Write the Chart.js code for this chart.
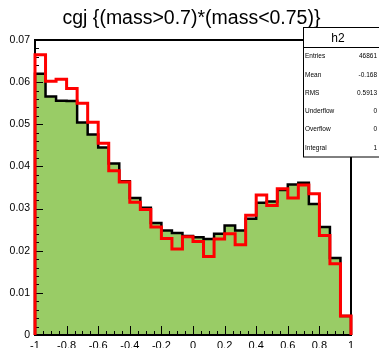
<!DOCTYPE html>
<html>
<head>
<meta charset="utf-8">
<script src="https://cdn.jsdelivr.net/npm/chart.js@4"></script>
<style>
  html, body { margin: 0; padding: 0; background: #fff; }
  canvas { display: block; }
</style>
</head>
<body>
<canvas id="histo" width="379" height="348"></canvas>
<script>
// histogram binning
const xMin = -1, xMax = 1, nBins = 30;

// bin contents (filled one, black outline)
const fillValues = [0.0620, 0.0566, 0.0556, 0.0555, 0.0504, 0.0476, 0.0445, 0.0407, 0.0365, 0.0325,
                    0.0302, 0.0266, 0.0248, 0.0242, 0.0235, 0.0232, 0.0228, 0.0240, 0.0260, 0.0248,
                    0.0276, 0.0314, 0.0317, 0.0344, 0.0357, 0.0361, 0.0311, 0.0256, 0.0183, 0.0045];
// red outline drawn "same"
const redValues = [0.0665, 0.0602, 0.0607, 0.0585, 0.0550, 0.0505, 0.0455, 0.0390, 0.0363, 0.0315,
                   0.0298, 0.0256, 0.0229, 0.0204, 0.0233, 0.0222, 0.0186, 0.0228, 0.0240, 0.0214,
                   0.0284, 0.0332, 0.0307, 0.0347, 0.0325, 0.0356, 0.0335, 0.0236, 0.0169, 0.0045];

const titleText = 'cgj {(mass>0.7)*(mass<0.75)}';
const statsName = 'h2';
const statsLabels = ['Entries', 'Mean', 'RMS', 'Underflow', 'Overflow', 'Integral'];
const statsValues = ['46861', '-0.168', '0.5913', '0', '0', '1'];

const FONT = '"Liberation Sans", Arial, Helvetica, sans-serif';

// turn bin contents into step points: (-1,0) edges ... (1,0)
function stepPoints(values) {
  const w = (xMax - xMin) / nBins;
  const pts = [{x: xMin, y: 0}];
  values.forEach((v, i) => pts.push({x: xMin + i * w, y: v}));
  pts.push({x: xMax, y: values[values.length - 1]});
  pts.push({x: xMax, y: 0});
  return pts;
}

// frame + inward ticks (ROOT style), drawn between the two histograms
function drawFrame(chart) {
  const ctx = chart.ctx, a = chart.chartArea;
  const xs = chart.scales.x, ys = chart.scales.y;
  ctx.save();
  ctx.strokeStyle = '#000';
  ctx.lineWidth = 1;
  ctx.beginPath();
  // y ticks every 0.002, major at 0.01
  for (let k = 0; k <= 35; k++) {
    const py = Math.round(ys.getPixelForValue(k * 0.002)) + 0.5;
    const len = k % 5 === 0 ? 8 : 4;
    ctx.moveTo(a.left, py); ctx.lineTo(a.left + len, py);
  }
  // x ticks every 0.05, major at 0.2
  for (let k = 0; k <= 40; k++) {
    const px = Math.round(xs.getPixelForValue(xMin + k * 0.05)) + 0.5;
    const len = k % 4 === 0 ? 9 : 4;
    ctx.moveTo(px, a.bottom); ctx.lineTo(px, a.bottom - len);
  }
  ctx.stroke();
  ctx.lineWidth = 2;
  ctx.strokeRect(a.left, a.top, a.right - a.left, a.bottom - a.top);
  ctx.restore();
}

const rootLook = {
  id: 'rootLook',
  beforeDatasetDraw(chart, args) {
    if (args.index === 0) drawFrame(chart);
  },
  afterDraw(chart) {
    const ctx = chart.ctx;
    ctx.save();
    // title
    ctx.fillStyle = '#000';
    ctx.font = '19.5px ' + FONT;
    ctx.textAlign = 'center';
    ctx.textBaseline = 'alphabetic';
    ctx.fillText(titleText, 191.5, 24);
    // stats box
    const bx = 303.5, by = 27.5, bw = 90, bh = 129.5, hdr = 47.5;
    ctx.fillStyle = '#fff';
    ctx.fillRect(bx, by, bw, bh);
    ctx.strokeStyle = '#000';
    ctx.lineWidth = 1;
    ctx.strokeRect(bx, by, bw, bh);
    ctx.beginPath();
    ctx.moveTo(bx, hdr); ctx.lineTo(bx + bw, hdr);
    ctx.stroke();
    ctx.fillStyle = '#000';
    ctx.font = '12px ' + FONT;
    ctx.fillText(statsName, 338, 42);
    ctx.font = '6.5px ' + FONT;
    ctx.textBaseline = 'middle';
    const rowH = (by + bh - hdr) / statsLabels.length;
    statsLabels.forEach((lab, i) => {
      const cy = hdr + rowH * (i + 0.5);
      ctx.textAlign = 'left';
      ctx.fillText(lab, 305, cy);
      ctx.textAlign = 'right';
      ctx.fillText(statsValues[i], 377, cy);
    });
    ctx.restore();
  }
};

new Chart(document.getElementById('histo'), {
  type: 'line',
  data: {
    datasets: [
      {
        data: stepPoints(fillValues),
        stepped: true,
        borderColor: '#000',
        borderWidth: 2.5,
        backgroundColor: '#99cc66',
        fill: 'origin',
        pointRadius: 0,
        borderJoinStyle: 'miter',
        clip: false,
        order: 1
      },
      {
        data: stepPoints(redValues),
        stepped: true,
        borderColor: '#ff0000',
        borderWidth: 3,
        fill: false,
        pointRadius: 0,
        borderJoinStyle: 'miter',
        clip: false,
        order: 0
      }
    ]
  },
  plugins: [rootLook],
  options: {
    responsive: false,
    animation: false,
    layout: { padding: { left: 0, top: 40, right: 28, bottom: 0 } },
    plugins: { legend: { display: false }, tooltip: { enabled: false }, title: { display: false } },
    scales: {
      x: {
        type: 'linear',
        min: xMin, max: xMax,
        grid: { display: false, drawTicks: false },
        border: { display: false },
        ticks: {
          stepSize: 0.2, autoSkip: false, maxRotation: 0, padding: 4,
          color: '#000', font: { family: FONT, size: 11 },
          callback: v => String(Number(v.toFixed(1)) || 0)
        },
        afterFit: s => { s.height = 13; }
      },
      y: {
        min: 0, max: 0.07,
        grid: { display: false, drawTicks: false },
        border: { display: false },
        ticks: {
          stepSize: 0.01, padding: 5,
          color: '#000', font: { family: FONT, size: 10.5 },
          callback: v => v === 0 ? '0' : v.toFixed(2)
        },
        afterFit: s => { s.width = 35; }
      }
    }
  }
});
</script>
</body>
</html>
